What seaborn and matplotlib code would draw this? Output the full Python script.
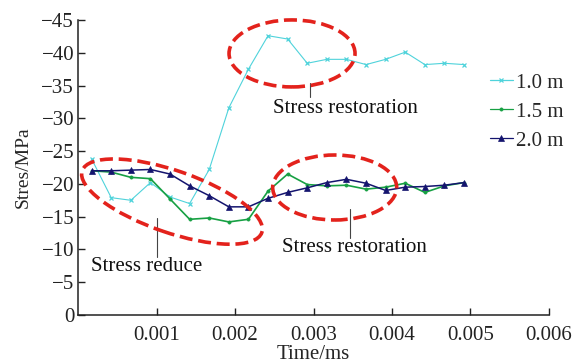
import numpy as np
import pandas as pd
import matplotlib
matplotlib.use("Agg")
import matplotlib.pyplot as plt
import matplotlib.transforms as mtransforms
from matplotlib.patches import Ellipse
import seaborn as sns

# ---- data ----
time_ms = [0.00017, 0.00042, 0.00067, 0.00092, 0.00117, 0.00142, 0.00167,
           0.00192, 0.00217, 0.00242, 0.00267, 0.00292, 0.00317, 0.00342,
           0.00367, 0.00392, 0.00417, 0.00442, 0.00467, 0.00492]
stress_10 = [-23.8, -17.9, -17.5, -20.2, -18.0, -17.0, -22.2, -31.6, -37.5, -42.6,
             -42.1, -38.4, -39.0, -39.0, -38.2, -39.0, -40.1, -38.2, -38.4, -38.2]
stress_15 = [-22.0, -21.8, -21.0, -20.8, -17.7, -14.6, -14.8, -14.2, -14.6, -18.9,
             -21.5, -19.9, -19.7, -19.8, -19.2, -19.5, -20.1, -18.7, -19.7, -20.2]
stress_20 = [-22.0, -22.0, -22.1, -22.2, -21.5, -19.7, -18.2, -16.5, -16.5, -17.8,
             -18.7, -19.4, -20.2, -20.7, -20.1, -19.0, -19.5, -19.6, -19.8, -20.2]
series_labels = ["1.0 m", "1.5 m", "2.0 m"]
y_ticks = [0, -5, -10, -15, -20, -25, -30, -35, -40, -45]
x_ticks = [0.001, 0.002, 0.003, 0.004, 0.005, 0.006]

sns.set_style("ticks")
plt.rcParams["font.family"] = ["Liberation Serif", "DejaVu Serif"]
plt.rcParams["axes.unicode_minus"] = True

fig = plt.figure(figsize=(5.77, 3.63), dpi=100)
ax = fig.add_axes([0.1357, 0.1322, 0.8153, 0.8127])

colors = ["#4fd3db", "#17a043", "#14146e"]
markers = ["x", "o", "^"]
msizes = [3.5, 2.3, 4.8]
lws = [0.8, 1.2, 1.1]
for vals, lab, c, m, ms, lw in zip([stress_10, stress_15, stress_20], series_labels,
                                    colors, markers, msizes, lws):
    df = pd.DataFrame({"Time": time_ms, "Stress": vals})
    sns.lineplot(data=df, x="Time", y="Stress", ax=ax, color=c, marker=m,
                 markersize=ms, linewidth=lw, label=lab,
                 markeredgecolor=c, markeredgewidth=0.9 if m == "x" else 0.5)

ax.set_xlim(0, 0.006)
ax.set_ylim(0, -45)
ax.set_xticks(x_ticks)
ax.set_xticklabels([f"{v:.3f}" for v in x_ticks])
ax.set_yticks(y_ticks)
ax.set_yticklabels([("\u2212" + str(-v)) if v != 0 else "0" for v in y_ticks])
ax.tick_params(direction="in", length=5, width=1, labelsize=15, colors="#222222")
ax.tick_params(axis="x", pad=8)
ax.tick_params(axis="y", pad=3)
for s in ["top", "right"]:
    ax.spines[s].set_visible(False)
for s in ["left", "bottom"]:
    ax.spines[s].set_linewidth(1.1)
    ax.spines[s].set_color("#222222")

ax.set_xlabel("Time/ms", fontsize=15, labelpad=0)
ax.set_ylabel("Stres/MPa", fontsize=14, labelpad=7)

leg = ax.legend(loc="upper left", bbox_to_anchor=(490 / 577, 1 - 73 / 363),
                bbox_transform=fig.transFigure, frameon=False, fontsize=15,
                handlelength=1.1, handletextpad=0.15, labelspacing=0.45,
                borderpad=0, borderaxespad=0)
for h in leg.get_lines():
    h.set_linewidth(0.9)

# dashed red ellipses (size in inches, centred on data points)
red = "#e3221c"
ellipses = [(0.002726, -39.9, 1.26, 0.67, 0),
            (0.001195, -17.3, 1.90, 0.62, -19),
            (0.00327, -19.45, 1.24, 0.65, 0)]
for xc, yc, w, h, ang in ellipses:
    tr = fig.dpi_scale_trans + mtransforms.ScaledTranslation(xc, yc, ax.transData)
    e = Ellipse((0, 0), w, h, angle=ang, transform=tr, fill=False, clip_on=False,
                edgecolor=red, linewidth=2.6, linestyle=(0, (3.6, 1.6)), zorder=5)
    ax.add_patch(e)

# annotations with leader lines
notes = [("Stress restoration", 0.002483, -30.77, 0.002955, -35.4, -33.3),
         ("Stress reduce", 0.000162, -6.71, 0.001008, -14.75, -8.9),
         ("Stress restoration", 0.002594, -9.66, 0.003465, -16.1, -11.7)]
for txt, tx, ty, lx, ly0, ly1 in notes:
    ax.text(tx, ty, txt, fontsize=15, ha="left", va="baseline", color="#111111")
    ax.plot([lx, lx], [ly0, ly1], color="#444444", linewidth=0.8)

fig.savefig("out.png", dpi=100)
